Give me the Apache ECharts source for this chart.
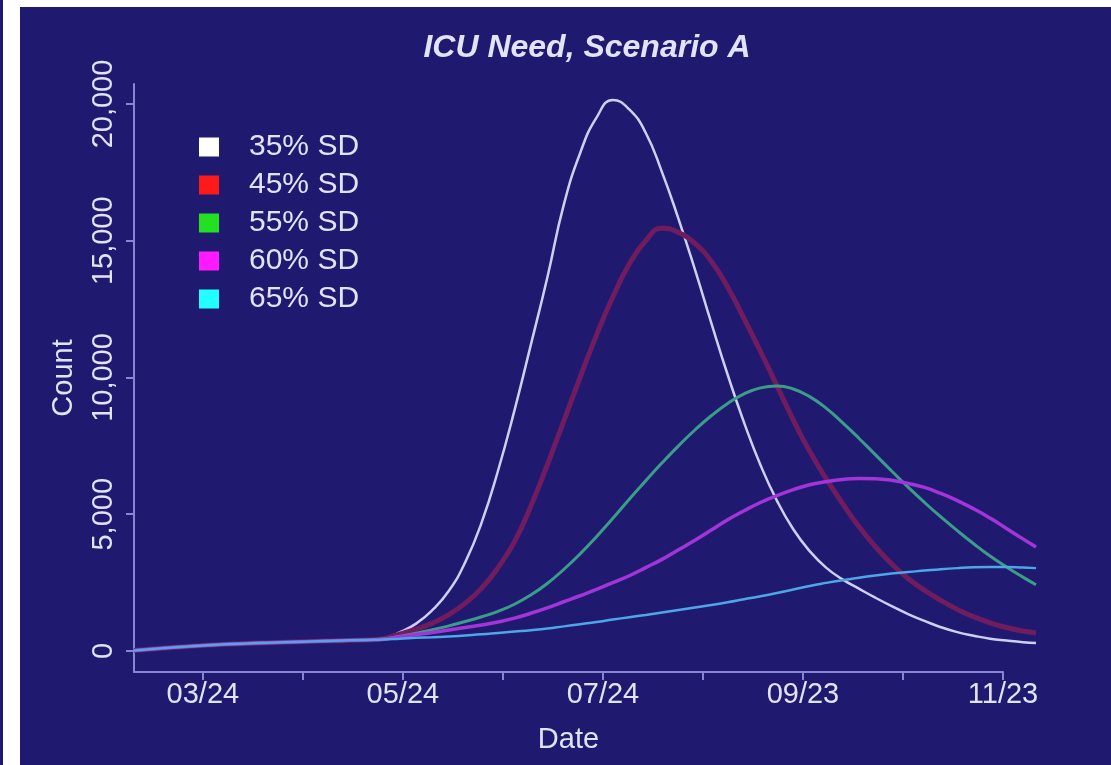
<!DOCTYPE html>
<html>
<head>
<meta charset="utf-8">
<script src="https://cdn.jsdelivr.net/npm/echarts@6/dist/echarts.min.js"></script>
<style>
  html, body { margin: 0; padding: 0; background: #ffffff; width: 1111px; height: 765px; overflow: hidden; }
  #strip { position: absolute; left: 0; top: 0; width: 3px; height: 765px; background: #1f1a70; }
  #chart { position: absolute; left: 20px; top: 7px; width: 1091px; height: 758px; background: #1f1a70; }
</style>
</head>
<body>
<div id="strip"></div>
<div id="chart"></div>
<script>
// Days counted from 03/24
const days = [-21, 0, 20, 40, 50, 55, 60, 65, 70, 75, 80, 85, 90, 95, 100, 105, 110, 115, 120, 125, 130, 135, 140, 145, 150, 155, 160, 165, 170, 175, 180, 185, 190, 195, 200, 205, 210, 215, 220, 225, 230, 235, 240, 245, 250, 254];

const sd35 = [20, 200, 300, 375, 405, 470, 680, 1000, 1500, 2200, 3250, 4700, 6600, 8800, 11200, 13650, 16300, 18200, 19500, 20150, 19800, 18950, 17500, 15800, 13950, 12000, 10100, 8350, 6800, 5500, 4450, 3650, 3050, 2620, 2280, 1950, 1640, 1350, 1100, 870, 690, 560, 450, 380, 320, 290];
const sd45 = [20, 200, 300, 375, 405, 450, 620, 800, 1020, 1330, 1750, 2300, 3050, 4000, 5300, 6800, 8400, 10000, 11550, 12950, 14150, 15000, 15460, 15300, 14900, 14250, 13300, 12150, 10950, 9700, 8450, 7300, 6300, 5400, 4550, 3820, 3180, 2650, 2220, 1850, 1520, 1250, 1030, 860, 730, 660];
const sd55 = [20, 200, 300, 375, 405, 440, 540, 650, 780, 920, 1080, 1250, 1450, 1710, 2050, 2470, 2980, 3550, 4180, 4850, 5550, 6220, 6880, 7500, 8080, 8600, 9050, 9400, 9620, 9690, 9580, 9300, 8880, 8350, 7780, 7180, 6580, 5990, 5430, 4900, 4400, 3920, 3470, 3070, 2700, 2420];
const sd60 = [20, 200, 300, 375, 405, 430, 520, 600, 680, 770, 860, 950, 1060, 1200, 1380, 1580, 1800, 2020, 2250, 2500, 2750, 3050, 3350, 3700, 4050, 4420, 4800, 5130, 5430, 5680, 5900, 6080, 6190, 6270, 6310, 6300, 6240, 6130, 5980, 5760, 5500, 5200, 4860, 4480, 4100, 3800];
const sd65 = [20, 200, 300, 375, 405, 420, 450, 480, 505, 530, 570, 610, 660, 710, 760, 820, 900, 980, 1060, 1150, 1235, 1320, 1410, 1500, 1590, 1680, 1780, 1890, 2000, 2120, 2250, 2380, 2490, 2590, 2680, 2760, 2830, 2890, 2940, 2990, 3030, 3060, 3070, 3070, 3050, 3030];

const seriesNames = ['35% SD', '45% SD', '55% SD', '60% SD', '65% SD'];
const legendColors = ['#ffffff', '#ff1a1a', '#22e022', '#ff1aff', '#22ffff'];

const xTickDays = [0, 30.5, 61, 91.5, 122, 152.5, 183, 213.5, 244];
const xLabelDays = [0, 61, 122, 183, 244];
const xLabelText = ['03/24', '05/24', '07/24', '09/23', '11/23'];
const yTicks = [0, 5000, 10000, 15000, 20000];

const TXT = '#e2e2f8';
const AX = '#8686d4';
const FONT = '"Liberation Sans", Arial, sans-serif';

const lineStyles = [
  { color: '#cfcff5', width: 2.5 },
  { color: '#701c5e', width: 5 },
  { color: '#3c9c8a', width: 3 },
  { color: '#a234d8', width: 3.5 },
  { color: '#4ea6e8', width: 2.5 }
];
const allData = [sd35, sd45, sd55, sd60, sd65];

const Y_MIN = -768, Y_MAX = 20731;
const X_MIN = -21, X_AXIS_END = 244, X_DATA_END = 254;
const PX_PER_DAY = 869 / (X_AXIS_END - X_MIN);

const chart = echarts.init(document.getElementById('chart'), null, { renderer: 'canvas' });
chart.setOption({
  backgroundColor: '#1f1a70',
  animation: false,
  title: {
    text: 'ICU Need, Scenario A',
    left: 567, top: 25, padding: 0, textAlign: 'center',
    textStyle: { color: TXT, fontSize: 32, fontWeight: 'bold', fontStyle: 'italic', fontFamily: FONT, lineHeight: 32 }
  },
  legend: {
    orient: 'vertical', left: 179, top: 125, padding: 0,
    itemWidth: 20, itemHeight: 19, itemGap: 8, icon: 'rect',
    formatter: n => '   ' + n,
    textStyle: { color: TXT, fontSize: 30, fontFamily: FONT, lineHeight: 30 },
    data: seriesNames.map((n, i) => ({ name: n, itemStyle: { color: legendColors[i], borderWidth: 0 } }))
  },
  grid: [
    { left: 114, top: 77, width: 869, height: 588, containLabel: false },
    { left: 114, top: 77, width: Math.round(PX_PER_DAY * (X_DATA_END - X_MIN)), height: 588, containLabel: false }
  ],
  xAxis: [{
    type: 'value', gridIndex: 0, min: X_MIN, max: X_AXIS_END,
    name: 'Date', nameLocation: 'middle', nameGap: 53,
    nameTextStyle: { color: TXT, fontSize: 29, fontFamily: FONT },
    axisLine: { show: true, onZero: false, lineStyle: { color: AX, width: 2 } },
    axisTick: { show: true, length: 8, lineStyle: { color: AX, width: 2 }, customValues: xTickDays },
    axisLabel: {
      color: TXT, fontSize: 29, fontFamily: FONT, margin: 8,
      customValues: xLabelDays,
      formatter: v => { const i = xLabelDays.indexOf(v); return i >= 0 ? xLabelText[i] : ''; }
    },
    splitLine: { show: false }
  }, {
    type: 'value', gridIndex: 1, min: X_MIN, max: X_DATA_END, show: false,
    splitLine: { show: false }
  }],
  yAxis: [{
    type: 'value', gridIndex: 0, min: Y_MIN, max: Y_MAX,
    name: 'Count', nameLocation: 'middle', nameGap: 56, nameRotate: 90,
    nameTextStyle: { color: TXT, fontSize: 29, fontFamily: FONT },
    axisLine: { show: true, onZero: false, lineStyle: { color: AX, width: 2 } },
    axisTick: { show: true, length: 8, lineStyle: { color: AX, width: 2 }, customValues: yTicks },
    axisLabel: {
      color: TXT, fontSize: 29, fontFamily: FONT, rotate: 90, margin: 16,
      customValues: yTicks,
      formatter: v => Number(v).toLocaleString('en-US')
    },
    splitLine: { show: false }
  }, {
    type: 'value', gridIndex: 1, min: Y_MIN, max: Y_MAX, show: false,
    splitLine: { show: false }
  }],
  series: seriesNames.map((n, i) => ({
    name: n, type: 'line', xAxisIndex: 1, yAxisIndex: 1,
    smooth: 0.5, showSymbol: false,
    lineStyle: lineStyles[i], itemStyle: { color: lineStyles[i].color },
    data: days.map((d, k) => [d, allData[i][k]])
  }))
});
</script>
</body>
</html>
